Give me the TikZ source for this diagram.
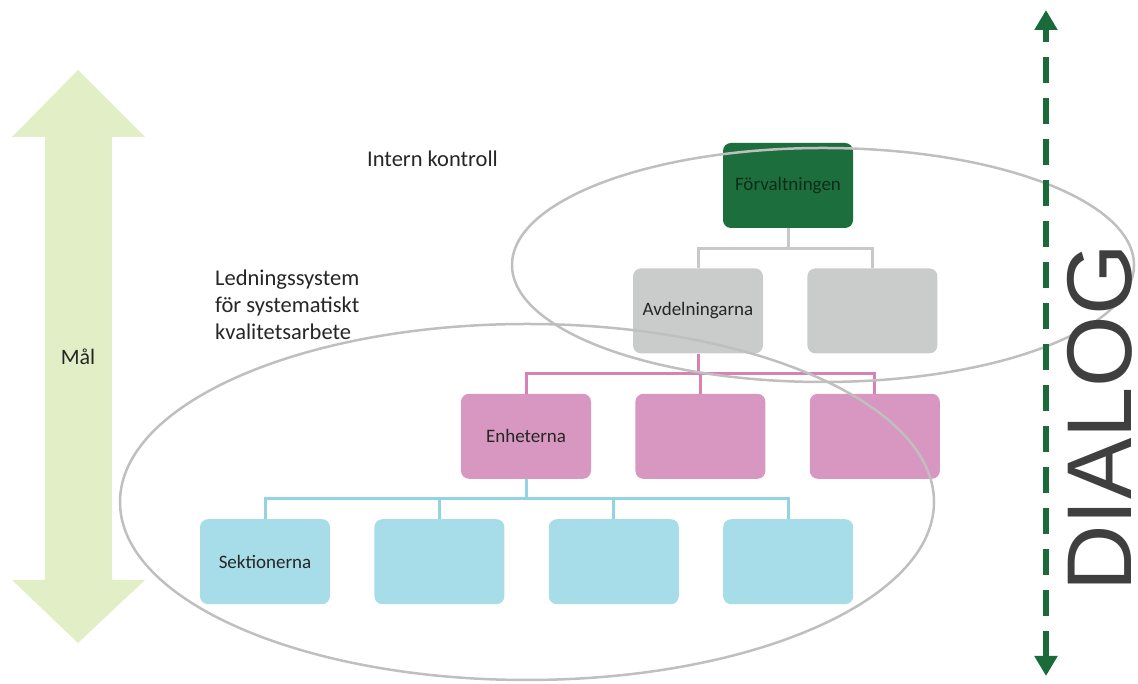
\documentclass[tikz,border=0pt]{standalone}
\usepackage{fontspec}
\setmainfont{Carlito}
\newfontfamily\dialogfont{Liberation Sans}
\usepackage{xcolor}
\usepackage{tikz}
\usetikzlibrary{positioning}
\usetikzlibrary{arrows.meta}

\definecolor{forvgreen}{HTML}{1C6E3D}
\definecolor{forvtext}{HTML}{0E2C18}
\definecolor{avdgray}{HTML}{C9CCCB}
\definecolor{enhpink}{HTML}{D797C0}
\definecolor{sekblue}{HTML}{A6DDE8}
\definecolor{avdline}{HTML}{C8C8C8}
\definecolor{enhline}{HTML}{D782B5}
\definecolor{sekline}{HTML}{92D4E3}
\definecolor{ringgray}{HTML}{BFBFBF}
\definecolor{malgreen}{HTML}{E2EFC6}
\definecolor{dialoggreen}{HTML}{1B6B3A}
\definecolor{dialoggray}{HTML}{3F3F3F}
\definecolor{textgray}{HTML}{262626}

\begin{document}
\begin{tikzpicture}[x=1pt,y=1pt,node distance=40pt and 44pt,
    box/.style={rounded corners=8pt,minimum width=130pt,minimum height=85pt,inner sep=0pt,
      font=\fontsize{19}{22}\selectfont,text=textgray},
    note/.style={inner sep=0pt,font=\fontsize{22.5}{27}\selectfont,text=textgray},
    link/.style={line width=3pt},
    ring/.style={draw=ringgray,line width=2.5pt},
    dialogline/.style={draw=dialoggreen,line width=6pt,dash pattern=on 26pt off 15pt,
      {Triangle[width=22pt,length=20pt]}-{Triangle[width=22pt,length=20pt]}}]
  \useasboundingbox (0,0) rectangle (1138,684);

  % goals arrow
  \fill[malgreen] (78,614) -- (145,547) -- (112,547) -- (112,104) -- (145,104) -- (78,41)
    -- (12,104) -- (45,104) -- (45,547) -- (12,547) -- cycle;
  \node[note,font=\fontsize{22}{26}\selectfont] (mal) at (78,327) {Mål};

  % organisation
  \node[box,fill=forvgreen,text=forvtext] (forv) at (788,498.5) {Förvaltningen};
  \node[box,fill=avdgray] (avd) [below=of forv,xshift=-90pt] {Avdelningarna};
  \node[box,fill=avdgray] (avd2) [right=of avd] {};
  \node[box,fill=enhpink] (enh) [below=of avd,xshift=-172pt] {Enheterna};
  \node[box,fill=enhpink] (enh2) [right=of enh] {};
  \node[box,fill=enhpink] (enh3) [right=of enh2] {};
  \node[box,fill=sekblue] (sek) [below=of enh,xshift=-261pt] {Sektionerna};
  \node[box,fill=sekblue] (sek2) [right=of sek] {};
  \node[box,fill=sekblue] (sek3) [right=of sek2] {};
  \node[box,fill=sekblue] (sek4) [right=of sek3] {};

  \foreach \n in {avd,avd2}
    \draw[link,avdline] (forv.south) -- ++(0,-20) -| (\n.north);
  \foreach \n in {enh,enh2,enh3}
    \draw[link,enhline] (avd.south) -- ++(0,-20) -| (\n.north);
  \foreach \n in {sek,sek2,sek3,sek4}
    \draw[link,sekline] (enh.south) -- ++(0,-20) -| (\n.north);

  % the two systems
  \draw[ring] (823,419) ellipse [x radius=311pt,y radius=117pt];
  \draw[ring] (527,182) ellipse [x radius=407pt,y radius=178pt];
  \node[note,anchor=base west] (intern) at (367,517) {Intern kontroll};
  \node[note,anchor=north west,align=left] (ledn) at (215,414)
    {Ledningssystem\\för systematiskt\\kvalitetsarbete};

  % dialog
  \coordinate (dtop) at (1046,674);
  \coordinate (dbot) at (1046,8);
  \draw[dialogline] (dbot) -- (dtop);
  \node[inner sep=0pt,rotate=90,anchor=base,text=dialoggray,
    font={\dialogfont\fontsize{92}{100}\selectfont}] (dialog) at (1131,266) {DIALOG};
\end{tikzpicture}
\end{document}
